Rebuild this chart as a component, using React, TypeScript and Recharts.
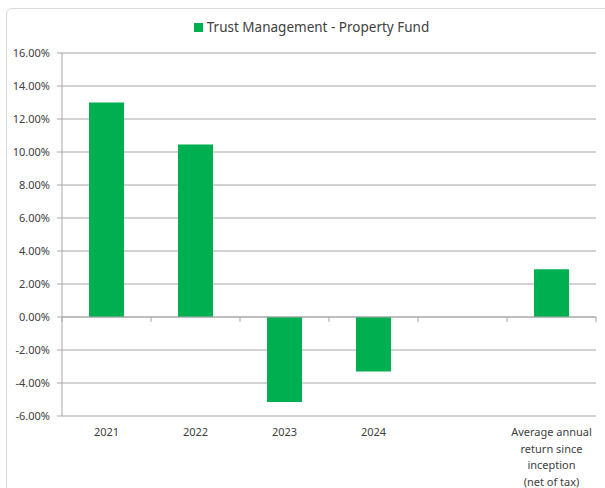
import { BarChart, Bar, XAxis, YAxis, CartesianGrid, Legend, ReferenceLine } from 'recharts'

const categories = ['2021', '2022', '2023', '2024', '', 'Average annual\nreturn since\ninception\n(net of tax)']
const returns = [13.0, 10.45, -5.15, -3.3, null, 2.9]
const yTicks = [-6, -4, -2, 0, 2, 4, 6, 8, 10, 12, 14, 16]
const seriesName = 'Trust Management - Property Fund'

const data = categories.map((category, i) => ({ category, value: returns[i] }))

const GREEN = '#00b050'
const GRID = '#a6a6a6'
const TEXT = '#404040'
const FONT = '"Noto Sans", sans-serif'

function CategoryTick({ x, y, payload }: any) {
  const lines = String(payload.value).split('\n')
  return (
    <text x={x} y={y} textAnchor="middle" fill={TEXT} fontSize={11} fontFamily={FONT}>
      {lines.map((line, i) => (
        <tspan key={i} x={x} dy={i === 0 ? 18 : 16.7}>
          {line}
        </tspan>
      ))}
    </text>
  )
}

// zero line with the category boundary ticks hanging under it
function ZeroLine({ x1, x2, y1 }: any) {
  const step = (x2 - x1) / categories.length
  const ticks = Array.from({ length: categories.length + 1 }, (_, i) => x1 + i * step)
  return (
    <g>
      <line x1={x1} x2={x2} y1={y1} y2={y1} stroke={GRID} strokeWidth={1} />
      {ticks.map((tx, i) => (
        <line key={i} x1={tx} x2={tx} y1={y1} y2={y1 + 5} stroke={GRID} strokeWidth={1} />
      ))}
    </g>
  )
}

function LegendContent() {
  return (
    <div
      style={{
        display: 'flex',
        justifyContent: 'center',
        alignItems: 'center',
        height: 20,
        paddingLeft: 18,
        fontFamily: FONT,
        fontSize: 13.5,
        color: TEXT,
      }}
    >
      <span style={{ width: 9, height: 9, background: GREEN, marginRight: 4, display: 'inline-block' }} />
      <span>{seriesName}</span>
    </div>
  )
}

export default function App() {
  return (
    <div style={{ position: 'absolute', left: 0, top: 0, width: 605, height: 488, overflow: 'hidden', background: '#fff' }}>
      <div
        style={{
          position: 'absolute',
          left: 6,
          top: 8,
          width: 640,
          height: 520,
          border: '1px solid #d9d9d9',
          borderRadius: 6,
        }}
      />
      <div style={{ position: 'absolute', left: 0, top: 0 }}>
        <BarChart width={605} height={488} data={data} margin={{ top: 33, right: 9, bottom: 0, left: 0 }}>
          <CartesianGrid vertical={false} stroke={GRID} />
          <Legend verticalAlign="top" content={<LegendContent />} wrapperStyle={{ top: 17, left: 0, width: 605 }} />
          <XAxis
            dataKey="category"
            axisLine={false}
            tickLine={false}
            tickSize={0}
            height={72}
            interval={0}
            tick={<CategoryTick />}
          />
          <YAxis
            width={62}
            domain={[-6, 16]}
            ticks={yTicks}
            interval={0}
            tickFormatter={(v: number) => `${v.toFixed(2)}%`}
            tick={{ fontSize: 11, fill: TEXT, fontFamily: FONT }}
            stroke={GRID}
            tickSize={5}
            tickMargin={7}
          />
          <ReferenceLine y={0} shape={<ZeroLine />} />
          <Bar dataKey="value" name={seriesName} fill={GREEN} barSize={35} isAnimationActive={false} />
        </BarChart>
      </div>
    </div>
  )
}
